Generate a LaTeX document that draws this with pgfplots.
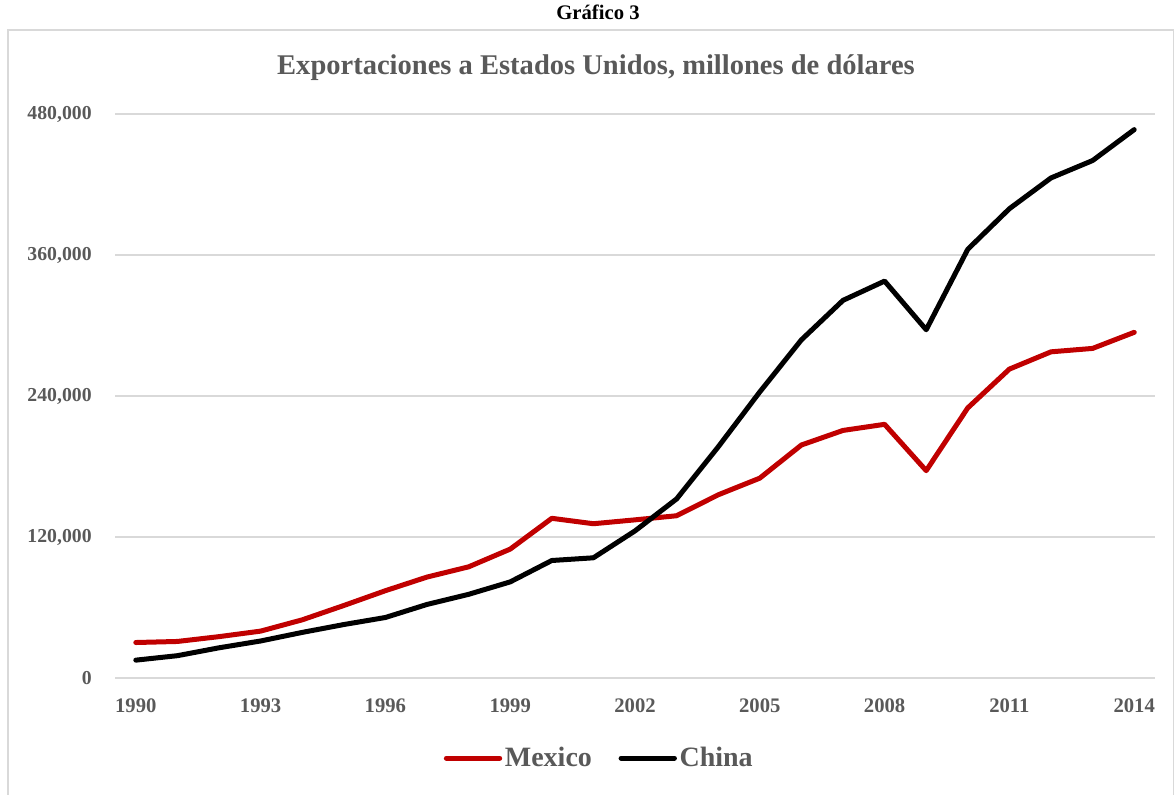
\documentclass[border=0pt]{standalone}
\usepackage{fontspec}
\setmainfont{Liberation Serif}
\usepackage{pgfplots}
\pgfplotsset{compat=1.18}
\definecolor{txtgray}{HTML}{595959}
\definecolor{mxred}{HTML}{C00000}
\definecolor{gridgray}{HTML}{D9D9D9}
\begin{document}
\begin{tikzpicture}
\useasboundingbox (0,0) rectangle (881.25pt,595.5pt);
\draw[gridgray, line width=1pt] (6pt,-20pt) rectangle (880pt,573pt);
\node[font=\fontsize{15.5}{17}\selectfont\bfseries] at (448.5pt,586.5pt) {Gráfico 3};
\node[font=\fontsize{21.4}{24}\selectfont\bfseries, text=txtgray] at (447pt,544.5pt) {Exportaciones a Estados Unidos, millones de dólares};
\begin{axis}[
  at={(86.25pt,87pt)}, anchor=south west,
  scale only axis, width=780pt, height=423pt,
  xmin=1989.5, xmax=2014.5, ymin=0, ymax=480000,
  axis line style={draw=none},
  tick style={draw=none},
  xtick={1990,1993,...,2014},
  ytick={0,120000,240000,360000,480000},
  ymajorgrids, grid style={gridgray, line width=1pt},
  scaled y ticks=false,
  /pgf/number format/assume math mode=true,
  x tick label style={/pgf/number format/.cd, set thousands separator={}, fixed, /tikz/.cd, font=\fontsize{15.5}{17}\selectfont\bfseries, text=txtgray, yshift=-12pt},
  y tick label style={/pgf/number format/.cd, 1000 sep={,}, fixed, /tikz/.cd, font=\fontsize{14.8}{16}\selectfont\bfseries, text=txtgray, xshift=-14pt},
  legend style={at={(0.466,-0.142)}, anchor=center, draw=none, fill=none,
    font=\fontsize{21}{24}\selectfont\bfseries, text=txtgray,
    /tikz/every even column/.append style={column sep=18pt}},
  legend columns=2,
  legend image code/.code={\draw[#1, line cap=round] (0pt,0pt) -- (40pt,0pt);},
]
\addplot[mxred, line width=3.75pt, line join=round, line cap=round] coordinates {
(1990,30200) (1991,31100) (1992,35200) (1993,39900) (1994,49500) (1995,61700)
(1996,74300) (1997,85900) (1998,94600) (1999,109700) (2000,135900) (2001,131300)
(2002,134600) (2003,138100) (2004,155900) (2005,170100) (2006,198300) (2007,210700)
(2008,215900) (2009,176500) (2010,229900) (2011,262900) (2012,277600) (2013,280500)
(2014,294200)};
\addlegendentry{Mexico}
\addplot[black, line width=3.75pt, line join=round, line cap=round] coordinates {
(1990,15200) (1991,19000) (1992,25700) (1993,31500) (1994,38800) (1995,45500)
(1996,51500) (1997,62600) (1998,71200) (1999,81800) (2000,100000) (2001,102300)
(2002,125200) (2003,152400) (2004,196700) (2005,243500) (2006,287800) (2007,321400)
(2008,337800) (2009,296400) (2010,364900) (2011,399400) (2012,425600) (2013,440400)
(2014,466700)};
\addlegendentry{China}
\end{axis}
\end{tikzpicture}
\end{document}
